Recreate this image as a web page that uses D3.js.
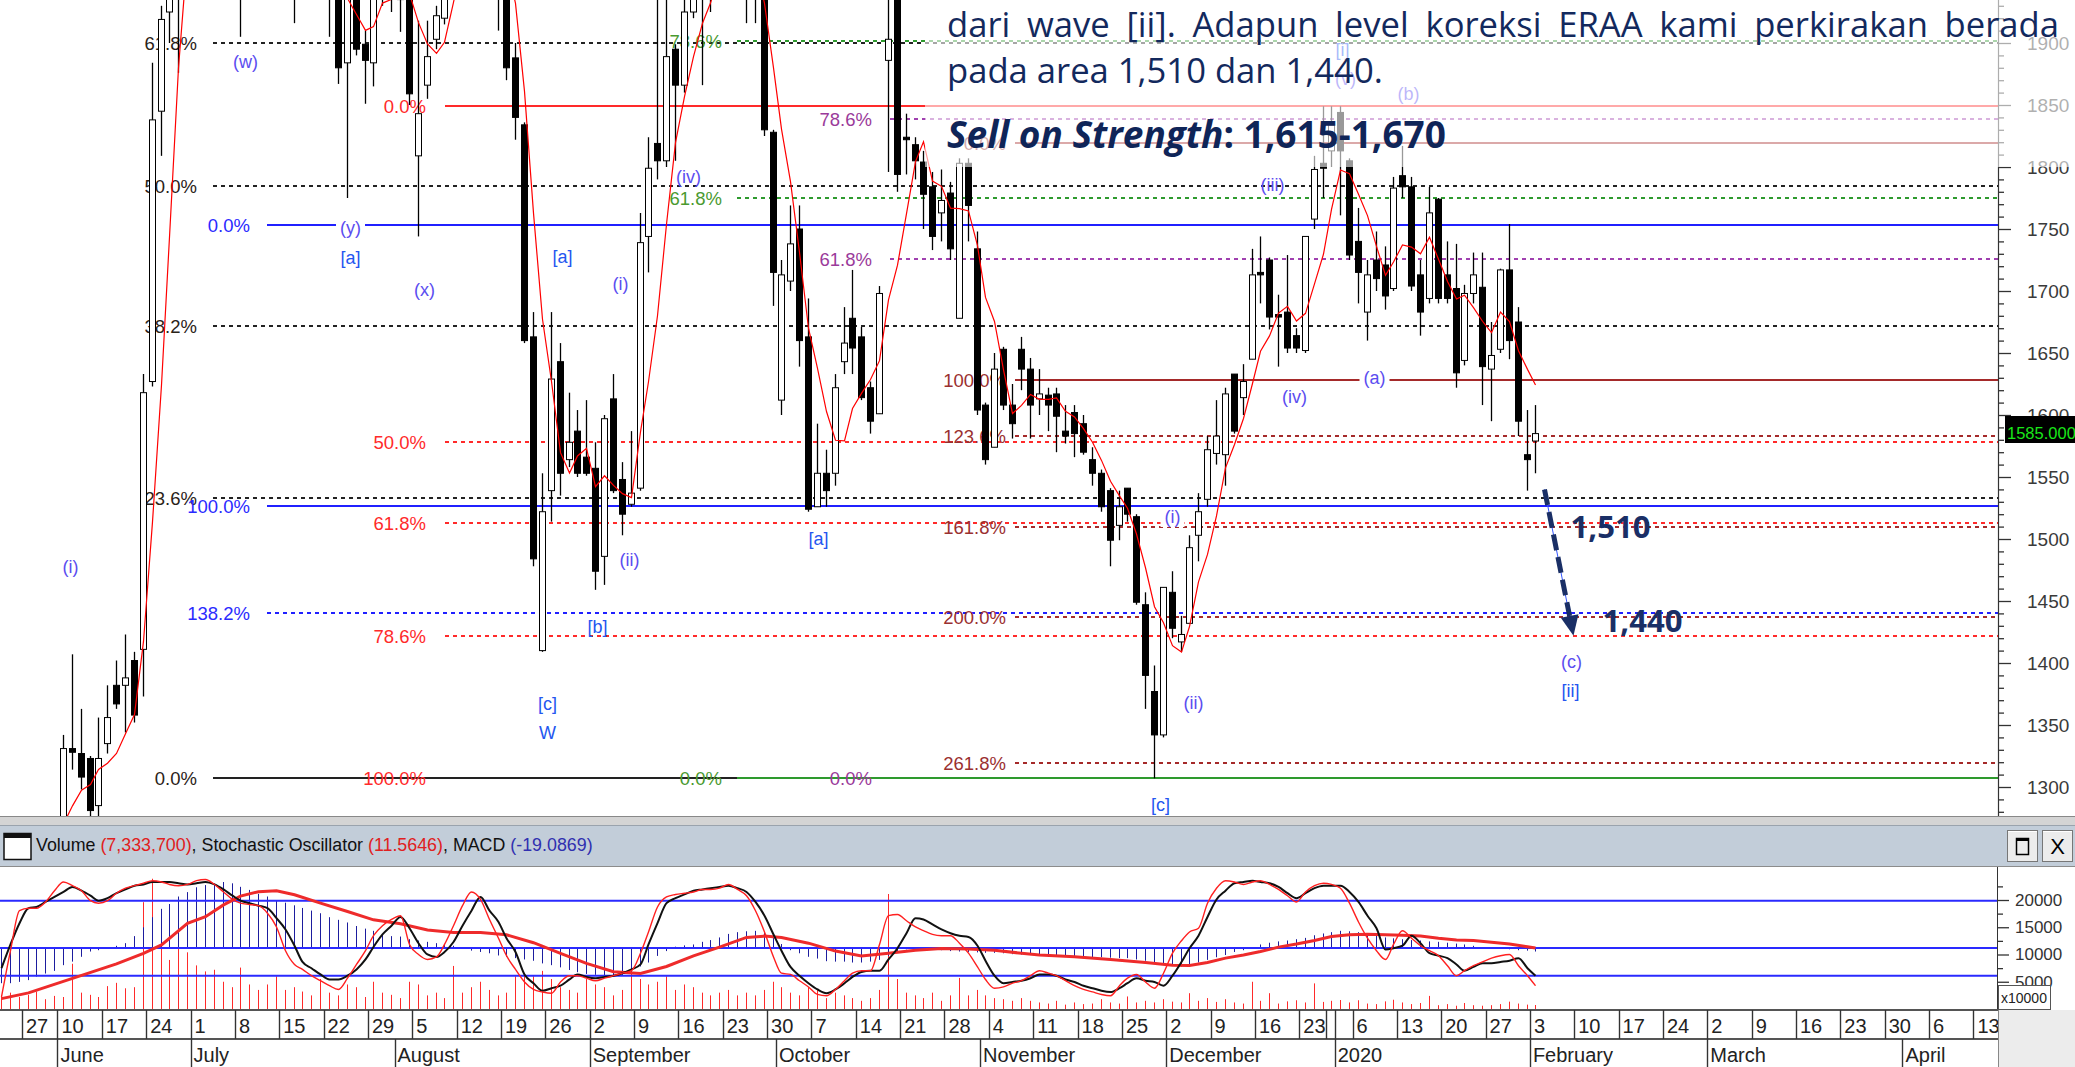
<!DOCTYPE html>
<html><head><meta charset="utf-8">
<script src="https://cdn.jsdelivr.net/npm/d3@7/dist/d3.min.js"></script>
<style>html,body{margin:0;padding:0;background:#fff;overflow:hidden}svg{display:block}</style>
</head><body>
<svg id="chart" width="2075" height="1067"></svg>
<script>
// ================= DATA =================
// trading-day index 0 = 22 May 2019 ... 173 = 3 Feb 2020
const opens = [1240,1250,1245,
1250,1255,1245,1258,1262,1331,1327,1323,1285,1335,
1382,1382,1402,1411,1627,1845,1925,1985,2040,2080,
2060,2020,2045,2030,1990,1960,1985,2010,1980,1970,
1955,1945,1975,1960,1950,1950,1884,1960,1899,1884,
1960,1975,1935,1945,1809,1866,1903,1920,1990,2020,
2010,2000,2015,1975,1960,1888,1834,1663,1410,1539,
1643,1564,1587,1566,1557,1486,1613,1548,1528,1541,
1744,1819,1805,1895,1866,1925,1960,1940,1970,1990,
1975,1960,1950,1950,1828,1612,1708,1750,1663,1526,
1553,1553,1643,1678,1663,1622,1601,1886,1945,1824,
1818,1804,1784,1763,1779,1678,1803,1734,1608,1574,
1653,1608,1653,1637,1613,1616,1617,1587,1602,1593,
1564,1553,1539,1511,1541,1518,1447,1377,1342,1457,
1417,1432,1503,1532,1569,1568,1633,1614,1645,1715,
1725,1681,1683,1664,1652,1758,1803,1813,1844,1805,
1740,1683,1725,1721,1702,1793,1784,1713,1694,1774,
1713,1702,1644,1698,1703,1637,1653,1717,1675,1568,
1579];
const highs = [1260,1268,1262,
1270,1272,1265,1275,1342,1407,1363,1325,1356,1382,
1402,1423,1409,1633,1884,1930,2000,2060,2100,2120,
2090,2060,2080,2050,2010,2000,2030,2040,2000,1990,
1980,1990,2000,1975,1970,1965,1960,1975,1910,1975,
1985,1990,1965,1960,1918,1918,1930,2005,2035,2040,
2040,2030,2025,1990,1975,1900,1836,1683,1553,1683,
1658,1618,1604,1612,1578,1600,1633,1562,1587,1763,
1824,1945,1950,1899,1950,1990,1990,1985,2010,2020,
1995,1980,1970,1960,1830,1725,1769,1769,1694,1593,
1572,1633,1687,1717,1671,1627,1704,1960,1960,1843,
1824,1813,1796,1798,1788,1807,1807,1748,1610,1650,
1655,1625,1663,1646,1637,1622,1622,1608,1608,1600,
1574,1556,1541,1539,1541,1520,1457,1398,1461,1474,
1438,1503,1537,1583,1612,1622,1633,1641,1734,1744,
1727,1697,1729,1670,1744,1809,1849,1849,1849,1807,
1767,1725,1748,1736,1792,1817,1792,1725,1784,1775,
1740,1738,1705,1731,1731,1675,1718,1754,1687,1604,
1608];
const lows = [1225,1235,1230,
1235,1240,1230,1245,1258,1314,1298,1270,1275,1327,
1363,1344,1352,1373,1623,1809,1900,1876,2010,2040,
2000,1990,2010,1970,1905,1940,1960,1970,1950,1940,
1916,1935,1950,1940,1905,1867,1775,1890,1851,1865,
1930,1925,1909,1850,1744,1855,1895,1915,1960,1990,
1980,1970,1960,1910,1870,1822,1658,1478,1409,1514,
1535,1558,1550,1551,1459,1463,1537,1503,1526,1539,
1715,1790,1800,1805,1860,1920,1866,1925,1950,1960,
1945,1916,1916,1825,1688,1600,1700,1639,1522,1526,
1526,1543,1633,1633,1612,1585,1601,1796,1780,1794,
1790,1750,1733,1740,1725,1678,1740,1600,1560,1574,
1604,1581,1620,1581,1600,1587,1570,1577,1566,1568,
1543,1522,1478,1499,1514,1447,1363,1307,1340,1420,
1409,1432,1482,1526,1560,1543,1585,1600,1645,1690,
1669,1639,1650,1650,1650,1750,1775,1800,1761,1725,
1690,1660,1700,1685,1700,1775,1700,1664,1690,1690,
1690,1622,1640,1690,1608,1595,1650,1645,1583,1539,
1553];
const closes = [1250,1245,1250,
1255,1245,1258,1262,1331,1328,1308,1281,1323,1356,
1367,1388,1358,1618,1838,1919,1985,2040,2080,2060,
2020,2045,2030,1990,1960,1985,2010,1980,1970,1955,
1945,1975,1960,1950,1945,1880,1945,1895,1886,1960,
1975,1960,1945,1859,1843,1889,1922,1990,2020,2010,
2000,2015,1975,1950,1880,1840,1660,1484,1522,1629,
1553,1578,1553,1553,1474,1597,1539,1520,1537,1739,
1799,1805,1889,1866,1925,1960,1940,1970,1990,1975,
1960,1950,1945,1830,1715,1713,1738,1660,1524,1553,
1539,1622,1658,1654,1614,1595,1698,1903,1794,1822,
1805,1778,1744,1773,1734,1803,1769,1604,1564,1637,
1608,1593,1637,1608,1617,1608,1599,1583,1585,1570,
1553,1526,1499,1526,1520,1449,1390,1342,1461,1428,
1423,1493,1522,1572,1583,1617,1587,1627,1713,1713,
1679,1679,1654,1654,1744,1798,1799,1834,1813,1729,
1715,1713,1710,1696,1783,1784,1704,1683,1763,1694,
1694,1634,1698,1713,1639,1648,1717,1660,1595,1564,
1585];
// volume, in units of 10,000 shares
const volumes = [2500,3000,2200,
2600,3200,1800,2400,2200,8300,3000,2600,2200,4200,
4800,3800,4000,19600,23900,17400,9000,16500,10400,8000,
6900,7200,5000,4000,7600,4500,3500,4500,6000,3500,
4000,3200,2500,5500,3000,2500,4500,4000,2200,5000,
3000,2600,2000,5000,4500,2500,3000,2000,7900,3000,
4000,5000,3500,2500,3000,6000,6500,6000,7000,5500,
4000,3500,3000,5500,4500,4000,2500,3500,7600,5500,
4500,5000,6000,3500,4500,4000,3000,2500,3000,3500,
2500,3000,2500,3500,5000,4000,3000,2500,4000,3500,
2000,3000,2500,2000,1500,2000,3500,21100,5500,3000,
2500,2000,3000,1500,2500,5700,2500,3500,2500,2000,
1800,1500,2000,1500,1200,1000,1500,800,1200,900,
1000,1800,1200,1000,2300,1200,1500,1200,1800,1350,
1200,2900,1500,2000,1300,1800,1200,1000,5000,1500,
2900,1000,1400,1600,1200,4700,1300,1500,1650,1200,
1600,1000,900,1400,1700,1200,900,1100,2400,700,
900,600,1100,700,600,700,900,1350,1000,800,
733];
// stochastic oscillator: fast (red) and slow (black)
const stochFast = [3,40,72,
74,74,79,88,95,92,88,80,78,80,
86,90,92,94,96,95,93,92,93,96,
97,93,87,81,78,77,76,70,59,40,
29,25,20,16,12,9,18,29,40,52,
60,65,68,45,37,33,35,45,60,76,
87,81,65,50,36,25,15,9,7,6,
15,20,20,18,16,18,20,22,24,38,
55,75,83,85,86,87,89,89,90,93,
89,84,72,55,35,22,21,16,11,5,
4,9,16,22,24,24,45,68,69,64,
59,56,53,52,52,46,38,27,17,10,
11,14,16,20,24,22,20,16,12,9,
7,5,4,12,18,21,15,10,22,38,
48,55,58,78,90,96,95,93,95,96,
93,89,84,79,87,92,94,93,90,78,
63,50,40,33,45,56,50,44,40,36,
28,20,24,28,31,34,36,37,28,20,
12];
const stochSlow = [26,45,62,
74,75,79,83,87,91,88,84,80,82,
86,89,92,93,95,95,95,94,93,94,
95,93,89,84,80,78,76,74,66,57,
44,31,26,21,17,17,20,25,33,43,
53,60,67,58,46,37,35,39,47,60,
72,83,72,63,50,39,21,14,8,10,
12,17,21,19,18,19,20,22,25,29,
45,62,78,82,85,88,89,90,91,92,
90,87,79,68,53,40,27,20,14,9,
6,9,14,19,23,24,24,33,42,54,
66,65,61,57,54,52,51,44,32,20,
14,15,16,18,21,21,20,17,15,12,
10,8,7,10,14,18,16,15,12,20,
31,42,52,67,81,88,94,95,96,95,
94,91,86,82,86,90,92,92,92,87,
79,68,58,41,42,44,52,46,38,36,
34,29,24,27,30,30,31,32,34,26,
20];
// MACD histogram
const macdHist = [-80,-80,-77,
-73,-65,-58,-52,-39,-31,-20,-8,-5,2,
5,11,27,47,70,89,100,117,127,138,
143,146,150,147,139,132,123,117,109,103,
97,91,85,79,70,64,58,50,44,39,
31,27,26,20,17,14,11,7,5,1,
-6,-9,-12,-17,-20,-23,-26,-29,-35,-39,
-44,-50,-55,-59,-61,-64,-65,-61,-54,-42,
-33,-18,-7,3,6,8,14,18,24,32,
36,38,39,35,26,9,-5,-12,-20,-24,
-30,-31,-31,-33,-33,-31,-27,-18,-11,-3,
0,-1,-2,-5,-7,-8,-9,-10,-11,-11,
-12,-14,-15,-16,-18,-20,-20,-20,-20,-20,
-21,-21,-22,-23,-23,-26,-29,-33,-38,-41,
-42,-39,-33,-27,-21,-16,-9,-5,-2,8,
12,15,17,20,23,29,33,36,39,38,
36,33,30,24,22,20,18,17,15,14,
12,10,8,5,2,0,-2,-3,-5,-6,
-8];
// MACD signal line, read at these trading-day indices
const macdSignal = [[0,-115],[3,-102],[8,-69],[13,-36],[16,-12],[18,7],[21,56],[23,71],[25,98],[27,118],[29,128],[31,130],[33,121],[36,102],[39,83],[42,64],[45,55],[48,41],[51,35],[54,35],[57,30],[60,12],[63,-12],[66,-35],[69,-54],[72,-58],[75,-42],[78,-18],[81,2],[84,24],[86,27],[88,24],[91,11],[94,-7],[97,-18],[100,-12],[103,-5],[106,-1],[109,-2],[112,-5],[115,-12],[117,-16],[121,-20],[125,-26],[129,-33],[132,-39],[134,-40],[136,-33],[138,-23],[140,-16],[142,-8],[144,2],[146,9],[148,17],[150,26],[152,30],[154,31],[156,30],[158,29],[160,27],[162,22],[164,18],[166,17],[168,13],[170,9],[172,3],[173,0]];

// axis ticks
const priceMajor = [1300,1350,1400,1450,1500,1550,1600,1650,1700,1750,1800,1850,1900];
const volTicks = [5000,10000,15000,20000];
const dayTicks = [["27",3],["10",7],["17",12],["24",17],["1",22],["8",27],["15",32],["22",37],["29",42],["5",47],["12",52],["19",57],["26",62],["2",67],["9",72],["16",77],["23",82],["30",87],["7",92],["14",97],["21",102],["28",107],["4",112],["11",117],["18",122],["25",127],["2",132],["9",137],["16",142],["23",147],["",150],["6",153],["13",158],["20",163],["27",168],["3",173],["10",178],["17",183],["24",188],["2",193],["9",198],["16",203],["23",208],["30",213],["6",218],["13",223]];
const monthTicks = [["June",7],["July",22],["August",45],["September",67],["October",88],["November",111],["December",132],["2020",151],["February",173],["March",193],["April",215]];

// Fibonacci levels [label, price]
const fibBlack  = [["61.8%",1900],["50.0%",1785],["38.2%",1672],["23.6%",1533],["0.0%",1307]];
const fibRed    = [["0.0%",1849],["50.0%",1578],["61.8%",1513],["78.6%",1422],["100.0%",1307]];
const fibBlue   = [["0.0%",1753],["100.0%",1527],["138.2%",1440]];
const fibGreen  = [["78.6%",1902],["61.8%",1775],["0.0%",1307]];
const fibPurple = [["78.6%",1839],["61.8%",1726],["0.0%",1307]];
const fibBrown  = [["0.0%",1819],["100.0%",1628],["123.6%",1583],["161.8%",1510],["200.0%",1437],["261.8%",1319]];

// Elliott wave labels [text, trading-day index, price]
const waveLabels = [["(w)",27.5,1885],["(y)",39.4,1751],["[a]",39.4,1727],["(x)",47.7,1701],["[a]",63.3,1728],["(i)",69.8,1706],["(iv)",77.5,1792],["(i)",7.8,1478],["(ii)",70.8,1483],["[b]",67.2,1429],["[c]",61.6,1367],["W",61.6,1344],["[a]",92.1,1500],["(i)",132.0,1518],["(ii)",134.4,1368],["[c]",130.7,1286],["(iii)",143.3,1786],["(iv)",145.8,1615],["(a)",154.8,1630],["[i]",151.2,1895],["(v)",151.5,1871],["(b)",158.6,1859],["(c)",177.0,1401],["[ii]",176.9,1378]];
const labelsOnLines = ["(y)","(a)"];

const noteLine1 = "dari wave [ii]. Adapun level koreksi ERAA kami perkirakan berada";
const noteLine2 = "pada area 1,510 dan 1,440.";
const noteBoldItalic = "Sell on Strength";
const noteBold = ": 1,615-1,670";
const targets = [["1,510",176.9,1501],["1,440",180.5,1425]];
const arrowFrom = [174.0,1540], arrowTo = [177.2,1422];
const lastPrice = 1585;
const headerParts = [["Volume ","#111"],["(7,333,700)","#e02020"],[", Stochastic Oscillator ","#111"],["(11.5646)","#e02020"],[", MACD ","#111"],["(-19.0869)","#3030b0"]];

// ================= DRAWING =================
const svg = d3.select("#chart");
const RIGHT = 1998;
const FONT = "'Liberation Sans', Arial, sans-serif";
const NOTE_FONT = "'Open Sans', 'Noto Sans', sans-serif";
const NAVY = "#13295d";

const x = d3.scaleLinear().domain([0,223]).range([-4.61, -4.61 + 223*8.87]);
const cx = i => Math.round(x(i) + 5.5) + 0.5;
const y = d3.scaleLinear().domain([1300,1900]).range([787,43]);
const ys = d3.scaleLinear().domain([0,100]).range([1000.7,875.7]);
const ym = d3.scaleLinear().domain([0,100]).range([948,904]);
const yv = d3.scaleLinear().domain([0,20000]).range([1009,900]);

const defs = svg.append("defs");
defs.append("clipPath").attr("id","mainClip").append("rect").attr("x",0).attr("y",0).attr("width",RIGHT).attr("height",816);
defs.append("clipPath").attr("id","paneClip").append("rect").attr("x",0).attr("y",867).attr("width",1997).attr("height",142);

svg.append("rect").attr("width",2075).attr("height",1067).attr("fill","#fff");

// ---------- main pane ----------
const main = svg.append("g").attr("clip-path","url(#mainClip)");
const gFib = main.append("g");

function drawFib(levels, st){
  levels.forEach(([lab,val])=>{
    const yy = Math.round(y(val));
    if(!(st.noLine||[]).includes(lab)){
      const solid = st.solid.includes(lab);
      const end = (st.ends && st.ends[lab]) || RIGHT;
      gFib.append("line").attr("x1",st.start).attr("x2",end).attr("y1",yy).attr("y2",yy)
        .attr("stroke",st.line).attr("stroke-width",2)
        .attr("stroke-dasharray",solid?null:"4,4");
    }
    gFib.append("text").attr("x",st.labelX).attr("y",yy).attr("dy","0.36em")
      .attr("text-anchor","end").attr("font-family",FONT).attr("font-size",18.5)
      .attr("fill",st.text).text(lab);
  });
}
drawFib(fibBlack,{line:"#222",text:"#2a2218",labelX:197,start:213,solid:["0.0%"],ends:{"0.0%":737}});
drawFib(fibRed,{line:"#ff2a2a",text:"#ff2a2a",labelX:426,start:445,solid:["0.0%"],noLine:["100.0%"]});
drawFib(fibBlue,{line:"#2020ff",text:"#2a2aff",labelX:250,start:267,solid:["0.0%","100.0%"]});
drawFib(fibGreen,{line:"#2e9a2e",text:"#4a9a30",labelX:722,start:737,solid:["0.0%"]});
drawFib(fibPurple,{line:"#a040b0",text:"#9a3a9a",labelX:872,start:890,solid:[],noLine:["0.0%"]});
drawFib(fibBrown,{line:"#a52a2a",text:"#9a3030",labelX:1006,start:1015,solid:["0.0%","100.0%"]});

// candles
const idx = d3.range(opens.length);
main.append("g").selectAll("line").data(idx).join("line")
  .attr("x1",cx).attr("x2",cx)
  .attr("y1",i=>y(highs[i])).attr("y2",i=>y(lows[i]))
  .attr("stroke","#000").attr("stroke-width",1.3);
main.append("g").selectAll("rect").data(idx).join("rect")
  .attr("x",i=>cx(i)-3).attr("width",6)
  .attr("y",i=>y(Math.max(opens[i],closes[i])))
  .attr("height",i=>Math.max(1,Math.abs(y(opens[i])-y(closes[i]))))
  .attr("fill",i=>closes[i]>=opens[i]?"#fff":"#000")
  .attr("stroke","#000").attr("stroke-width",1);

// 5-day moving average of close
const ma = closes.map((c,i)=> i<4 ? null : d3.mean(closes.slice(i-4,i+1)));
main.append("path").datum(idx.filter(i=>ma[i]!==null))
  .attr("d", d3.line().x(cx).y(i=>y(ma[i])))
  .attr("fill","none").attr("stroke","#ff0000").attr("stroke-width",1.2);

// wave labels
const gWave = main.append("g");
waveLabels.forEach(([t,i,p])=>{
  const isBracket = t.startsWith("[") || t==="W";
  const tx = gWave.append("text").attr("x",cx(i)).attr("y",y(p)).attr("dy","0.35em")
    .attr("text-anchor","middle").attr("font-family",FONT).attr("font-size",18)
    .attr("fill",isBracket?"#2456f0":"#5b4df0").text(t);
  if(labelsOnLines.includes(t) || (t==="(i)" && i>100)){
    const b = tx.node().getBBox();
    gWave.insert("rect","text").attr("x",b.x-4).attr("y",b.y).attr("width",b.width+8).attr("height",b.height).attr("fill","#fff");
  }
});

// ---------- price axis ----------
svg.append("line").attr("x1",RIGHT+0.5).attr("x2",RIGHT+0.5).attr("y1",0).attr("y2",816).attr("stroke","#333").attr("stroke-width",1.2);
const axMaj = svg.append("g").attr("transform",`translate(${RIGHT},0)`)
  .call(d3.axisRight(y).tickValues(priceMajor).tickSize(13).tickSizeOuter(0).tickPadding(16).tickFormat(d3.format("d")));
const axMin = svg.append("g").attr("transform",`translate(${RIGHT},0)`)
  .call(d3.axisRight(y).tickValues(d3.range(1280,1940,10).filter(v=>v%50!==0)).tickSize(6).tickSizeOuter(0).tickFormat(""));
[axMaj,axMin].forEach(a=>{a.select(".domain").remove(); a.selectAll("line").attr("stroke","#333").attr("stroke-width",1.3);});
axMaj.selectAll("text").attr("font-family",FONT).attr("font-size",19).attr("fill","#3a3a3a");

// last price box
svg.append("rect").attr("x",2005).attr("y",416).attr("width",70).attr("height",27).attr("fill","#000");
svg.append("text").attr("x",2007).attr("y",y(lastPrice)).attr("dy","0.35em").attr("font-family",FONT).attr("font-size",16.5).attr("fill","#19e619").text(lastPrice.toFixed(3));

// main pane bottom
svg.append("line").attr("x1",0).attr("x2",2075).attr("y1",816.5).attr("y2",816.5).attr("stroke","#888");

// ---------- semi-transparent note box ----------
svg.append("rect").attr("x",925).attr("y",0).attr("width",1150).attr("height",167).attr("fill","#fff").attr("opacity",0.6);

// note line 2 (sets the font size)
const l2 = svg.append("text").attr("x",947).attr("y",83).attr("font-family",NOTE_FONT).attr("font-size",31).attr("fill",NAVY).text(noteLine2);
const fs2 = 31*436/l2.node().getComputedTextLength();
l2.attr("font-size",fs2);
// note line 1, justified
const words = noteLine1.split(" ");
const wt = words.map(w=>svg.append("text").attr("y",37).attr("font-family",NOTE_FONT).attr("font-size",fs2).attr("fill",NAVY).text(w));
const wl = wt.map(t=>t.node().getComputedTextLength());
const gap = (2059-947-d3.sum(wl))/(words.length-1);
let px = 947;
wt.forEach((t,k)=>{t.attr("x",px); px += wl[k]+gap;});
// note line 3
const l3 = svg.append("text").attr("x",947).attr("y",148).attr("font-family",NOTE_FONT).attr("font-size",32).attr("font-weight","bold").attr("fill","#0f2558");
l3.append("tspan").attr("font-style","italic").text(noteBoldItalic);
l3.append("tspan").text(noteBold);
l3.attr("font-size",32*499/l3.node().getComputedTextLength());

// target labels and arrow
targets.forEach(([t,i,p])=>{
  const tt = svg.append("text").attr("x",cx(i)).attr("y",y(p)).attr("font-family",NOTE_FONT).attr("font-weight","bold").attr("font-size",31).attr("fill","#1a2f66").text(t);
  tt.attr("font-size",31*80/tt.node().getComputedTextLength());
});
{
  const x1=cx(arrowFrom[0]), y1=y(arrowFrom[1]), x2=cx(arrowTo[0]), y2=y(arrowTo[1]);
  const dx=x2-x1, dy=y2-y1, L=Math.hypot(dx,dy), ux=dx/L, uy=dy/L;
  const bx=x2-20*ux, by=y2-20*uy;
  svg.append("line").attr("x1",x1).attr("y1",y1).attr("x2",bx).attr("y2",by).attr("stroke","#3355ff").attr("stroke-width",1);
  svg.append("line").attr("x1",x1).attr("y1",y1).attr("x2",bx).attr("y2",by).attr("stroke","#1a2f66").attr("stroke-width",5).attr("stroke-dasharray","16,7");
  svg.append("path").attr("d",`M${x2},${y2}L${bx+9*uy},${by-9*ux}L${bx-9*uy},${by+9*ux}Z`).attr("fill","#1a2f66");
}

// ---------- indicator header ----------
svg.append("rect").attr("x",0).attr("y",817).attr("width",2075).attr("height",8).attr("fill","#d4d4d4");
svg.append("rect").attr("x",0).attr("y",825).attr("width",2075).attr("height",41).attr("fill","#c2cdd9");
svg.append("line").attr("x1",0).attr("x2",2075).attr("y1",825.5).attr("y2",825.5).attr("stroke","#9aa3ad");
svg.append("line").attr("x1",0).attr("x2",2075).attr("y1",866.5).attr("y2",866.5).attr("stroke","#8c8c8c");
svg.append("rect").attr("x",4).attr("y",833.5).attr("width",27).attr("height",26).attr("fill","#fff").attr("stroke","#111").attr("stroke-width",1.5);
svg.append("rect").attr("x",4).attr("y",833).attr("width",27).attr("height",5).attr("fill","#111");
const ht = svg.append("text").attr("x",36).attr("y",851).attr("font-family",FONT).attr("font-size",18);
headerParts.forEach(([t,c])=>ht.append("tspan").attr("fill",c).text(t));
ht.attr("font-size",18*557/ht.node().getComputedTextLength());
[[2007,"\u25A1"],[2042,"X"]].forEach(([bx,g])=>{
  svg.append("rect").attr("x",bx+0.5).attr("y",830.5).attr("width",30).attr("height",31).attr("fill","#ececec").attr("stroke","#777");
  svg.append("line").attr("x1",bx+1).attr("x2",bx+30).attr("y1",831.5).attr("y2",831.5).attr("stroke","#fff");
  if(g==="X") svg.append("text").attr("x",bx+15.5).attr("y",854).attr("text-anchor","middle").attr("font-family",FONT).attr("font-size",22).attr("fill","#000").text(g);
  else { svg.append("rect").attr("x",bx+9.5).attr("y",838.5).attr("width",12).attr("height",16).attr("fill","none").attr("stroke","#000").attr("stroke-width",1.5);
         svg.append("rect").attr("x",bx+9.5).attr("y",838).attr("width",12).attr("height",3).attr("fill","#000"); }
});

// ---------- indicator pane ----------
const pane = svg.append("g").attr("clip-path","url(#paneClip)");
pane.append("g").selectAll("line").data(idx).join("line")
  .attr("x1",cx).attr("x2",cx).attr("y1",yv(0)).attr("y2",i=>yv(volumes[i]))
  .attr("stroke","#ff2a2a").attr("stroke-width",1);
pane.append("g").selectAll("line").data(idx).join("line")
  .attr("x1",cx).attr("x2",cx).attr("y1",ym(0)).attr("y2",i=>ym(macdHist[i]))
  .attr("stroke","#1d1d9e").attr("stroke-width",1);
[ys(80), ym(0), ys(20)].forEach(v=>pane.append("line").attr("x1",0).attr("x2",1997).attr("y1",v).attr("y2",v).attr("stroke","#2a2aff").attr("stroke-width",2));
pane.append("path").datum(macdSignal).attr("d",d3.line().x(d=>cx(d[0])).y(d=>ym(d[1])))
  .attr("fill","none").attr("stroke","#ee2b2b").attr("stroke-width",3);
pane.append("path").datum(idx).attr("d",d3.line().x(cx).y(i=>ys(stochSlow[i])).curve(d3.curveMonotoneX))
  .attr("fill","none").attr("stroke","#111").attr("stroke-width",2);
pane.append("path").datum(idx).attr("d",d3.line().x(cx).y(i=>ys(stochFast[i])).curve(d3.curveMonotoneX))
  .attr("fill","none").attr("stroke","#ff2020").attr("stroke-width",1.4);

// volume axis
svg.append("line").attr("x1",1997.5).attr("x2",1997.5).attr("y1",867).attr("y2",1010).attr("stroke","#333");
const vMaj = svg.append("g").attr("transform","translate(1997,0)")
  .call(d3.axisRight(yv).tickValues(volTicks).tickSize(12).tickSizeOuter(0).tickPadding(6).tickFormat(d3.format("d")));
const vMin = svg.append("g").attr("transform","translate(1997,0)")
  .call(d3.axisRight(yv).tickValues([2500,7500,12500,17500,22500]).tickSize(6).tickSizeOuter(0).tickFormat(""));
[vMaj,vMin].forEach(a=>{a.select(".domain").remove(); a.selectAll("line").attr("stroke","#333").attr("stroke-width",1.3);});
vMaj.selectAll("text").attr("font-family",FONT).attr("font-size",17).attr("fill","#333");
svg.append("rect").attr("x",1998.5).attr("y",985.5).attr("width",52).attr("height",24).attr("fill","#fff").attr("stroke","#555");
svg.append("text").attr("x",2001).attr("y",1003).attr("font-family",FONT).attr("font-size",14).attr("fill","#222").text("x10000");

// ---------- date axis ----------
svg.append("rect").attr("x",1998).attr("y",1010).attr("width",77).attr("height",57).attr("fill","#ececec");
svg.append("rect").attr("x",0).attr("y",1010).attr("width",1998).attr("height",57).attr("fill","#fff");
[1010,1039].forEach(v=>svg.append("line").attr("x1",0).attr("x2",1998).attr("y1",v).attr("y2",v).attr("stroke","#555").attr("stroke-width",2));
const gDay = svg.append("g");
gDay.selectAll("line").data(dayTicks).join("line")
  .attr("x1",d=>Math.round(x(d[1]))+0.5).attr("x2",d=>Math.round(x(d[1]))+0.5)
  .attr("y1",1010).attr("y2",1039).attr("stroke","#333").attr("stroke-width",1.4);
gDay.selectAll("text").data(dayTicks).join("text")
  .attr("x",d=>x(d[1])+4).attr("y",1033).attr("font-family",FONT).attr("font-size",20)
  .attr("fill","#222").text(d=>d[0]);
const gMon = svg.append("g");
gMon.selectAll("line").data(monthTicks).join("line")
  .attr("x1",d=>Math.round(x(d[1]))+0.5).attr("x2",d=>Math.round(x(d[1]))+0.5)
  .attr("y1",d=>d[0]==="2020"?1010:1039).attr("y2",1067).attr("stroke","#333").attr("stroke-width",1.4);
gMon.selectAll("text").data(monthTicks).join("text")
  .attr("x",d=>x(d[1])+3).attr("y",1062).attr("font-family",FONT).attr("font-size",20)
  .attr("fill","#222").text(d=>d[0]);
svg.append("line").attr("x1",1998.5).attr("x2",1998.5).attr("y1",1010).attr("y2",1067).attr("stroke","#888");
</script>
</body></html>
